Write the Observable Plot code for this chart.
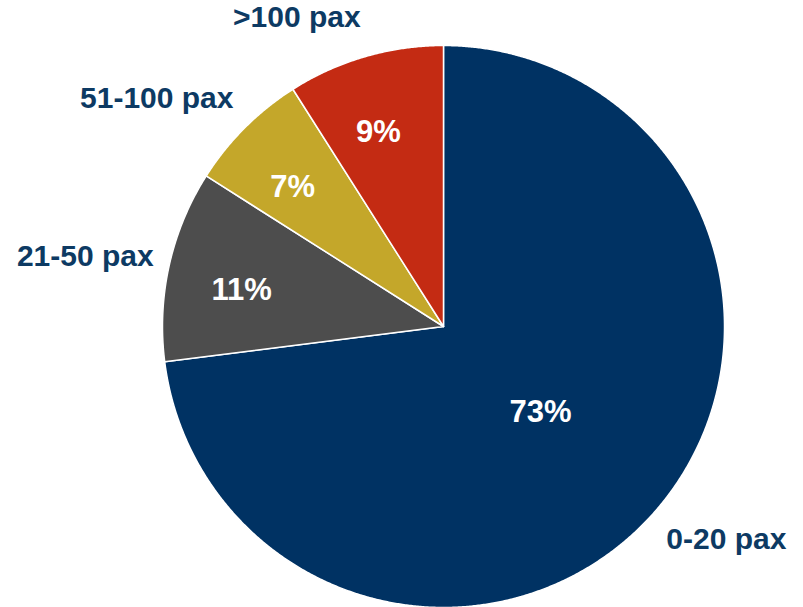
<!DOCTYPE html>
<html>
<head>
<meta charset="utf-8">
<script src="https://cdn.jsdelivr.net/npm/d3@7"></script>
<script src="https://cdn.jsdelivr.net/npm/@observablehq/plot@0.6"></script>
<style>
  html, body { margin: 0; padding: 0; background: #fff; }
  #chart svg { display: block; }
  #chart g[aria-label="pct"] text { text-shadow: 2px 2px 2px rgba(0,0,0,0.85); }
</style>
</head>
<body>
<div id="chart"></div>
<script>
// ---- data ----
const categories = ["0-20 pax", "21-50 pax", "51-100 pax", ">100 pax"];
const shares = [73, 11, 7, 9];
const sliceColors = ["#003263", "#4d4d4d", "#c4a72a", "#c42b13"];

// ---- layout ----
const W = 803, H = 607;
const cx = 443, cy = 326, R = 281; // pie centre / radius in pixels

const total = d3.sum(shares);
let cum = 0;
const slices = categories.map((cat, i) => {
  const a0 = cum / total * 2 * Math.PI;
  cum += shares[i];
  const a1 = cum / total * 2 * Math.PI;
  const mid = (a0 + a1) / 2;
  return {cat, value: shares[i], a0, a1, mid};
});

// polygon outline points for every slice (centre + arc)
const arcPts = slices.flatMap(s => {
  const n = Math.max(4, Math.ceil((s.a1 - s.a0) / 0.005));
  const pts = [{cat: s.cat, x: 0, y: 0}];
  for (let k = 0; k <= n; k++) {
    const a = s.a0 + (s.a1 - s.a0) * k / n;
    pts.push({cat: s.cat, x: Math.sin(a), y: Math.cos(a)});
  }
  pts.push({cat: s.cat, x: 0, y: 0});
  return pts;
});

const outerR = 1 + 16 / R;
const outerDy = 25 / R;
const outerX = d => outerR * Math.sin(d.mid);
const outerY = d => (outerR + outerDy) * Math.cos(d.mid);
const pctK = d => d.value > 50 ? 0.46 : 0.73;
const pctA = d => d.value > 50 ? d.mid : d.mid - 0.04;
const pctX = d => pctK(d) * Math.sin(pctA(d));
const pctY = d => pctK(d) * Math.cos(pctA(d));

const font = "'Liberation Sans', Arial, Helvetica, sans-serif";
const labelColor = "#0d3a63";

const plot = Plot.plot({
  width: W,
  height: H,
  margin: 0,
  x: {domain: [-cx / R, (W - cx) / R], axis: null},
  y: {domain: [-(H - cy) / R, cy / R], axis: null},
  color: {domain: categories, range: sliceColors},
  style: {fontFamily: font, background: "white"},
  marks: [
    Plot.line(arcPts, {x: "x", y: "y", z: "cat", fill: "cat", stroke: "white", strokeWidth: 1.5, curve: "linear"}),
    Plot.text(slices.filter(d => Math.sin(d.mid) < 0), {
      x: outerX, y: outerY, text: "cat", textAnchor: "end",
      fill: labelColor, fontSize: 30, fontWeight: "bold", fontFamily: font
    }),
    Plot.text(slices.filter(d => Math.sin(d.mid) >= 0), {
      x: outerX, y: outerY, text: "cat", textAnchor: "start",
      fill: labelColor, fontSize: 30, fontWeight: "bold", fontFamily: font
    }),
    Plot.text(slices, {
      x: pctX, y: pctY,
      text: d => d.value + "%", fill: "white", fontSize: 31, fontWeight: "bold",
      fontFamily: font, ariaLabel: "pct"
    })
  ]
});

document.getElementById("chart").appendChild(plot);
</script>
</body>
</html>
